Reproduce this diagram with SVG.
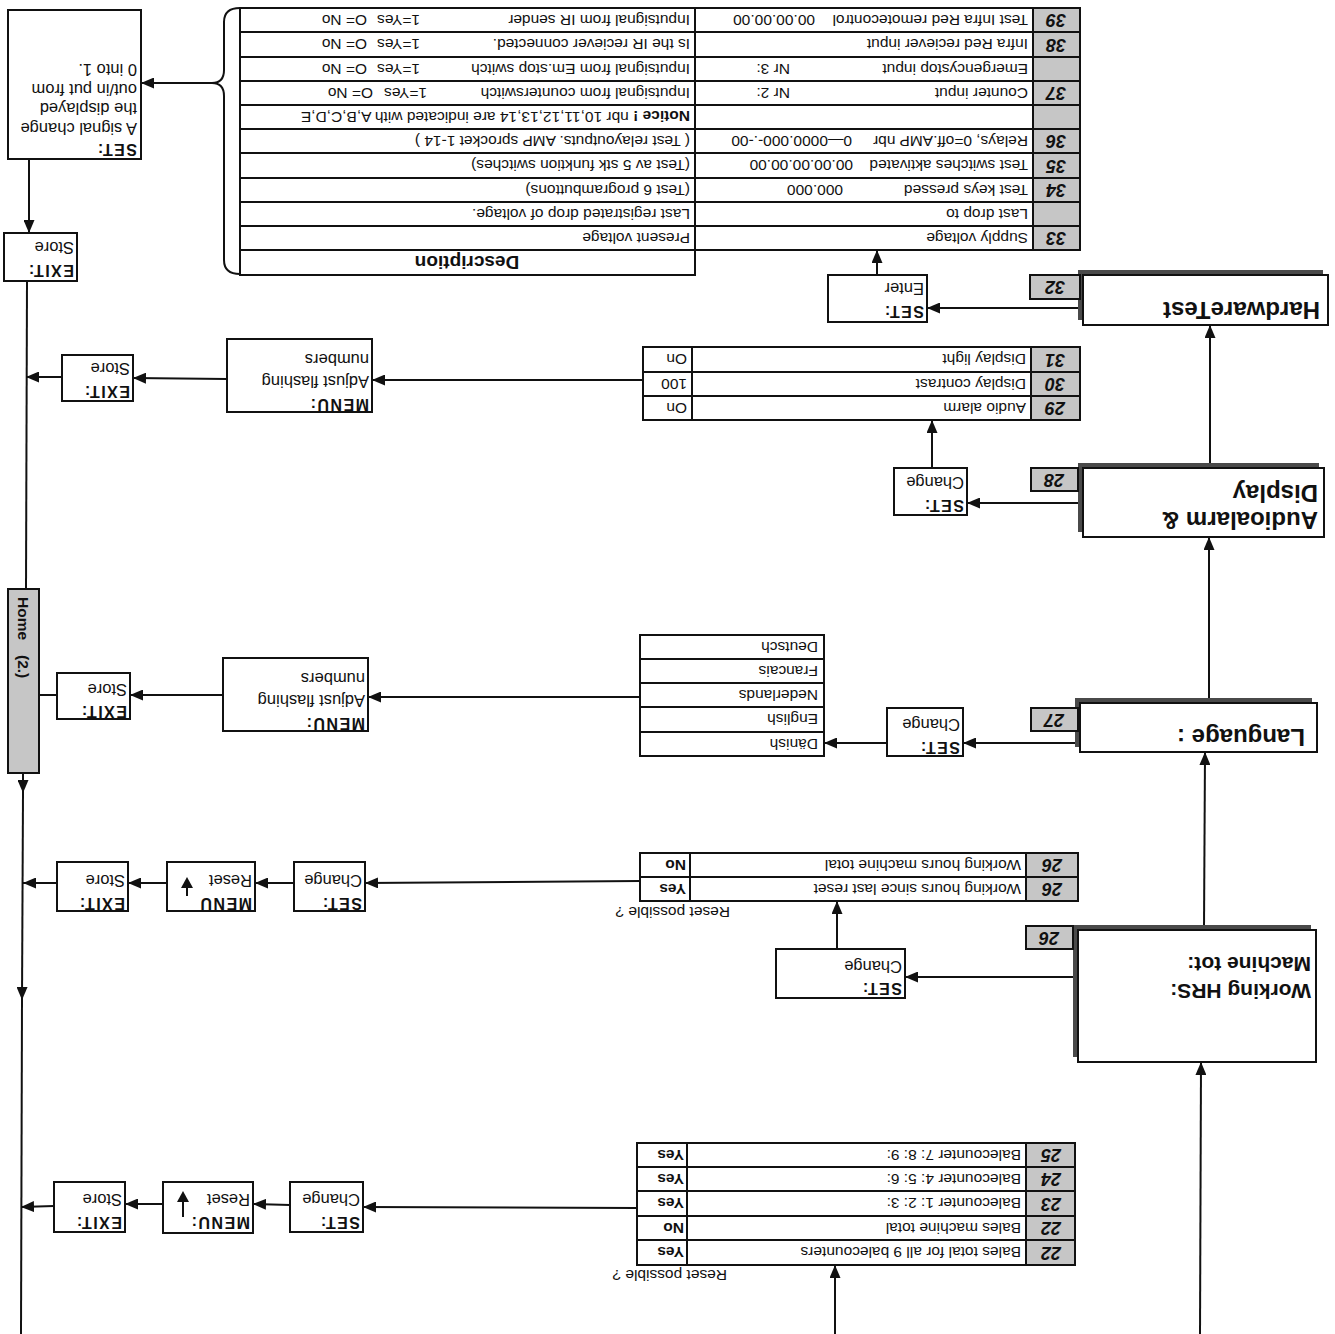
<svg xmlns="http://www.w3.org/2000/svg" width="1335" height="1334" viewBox="0 0 1335 1334">
<defs>
<style>
.ln{stroke:#111;stroke-width:2;fill:none}
.box{fill:#fff;stroke:#111;stroke-width:2}
.grey{fill:#c6c6c6;stroke:#111;stroke-width:2}
.shadow{fill:#4a4a4a}
text{font-family:"Liberation Sans",Arial,sans-serif;fill:#111;dominant-baseline:central}
.t{font-size:15.5px}
.tb{font-size:15.5px;font-weight:bold}
.b{font-size:16.5px}
.h{font-size:16px;font-weight:bold;letter-spacing:1.5px}
.n{font-size:18px;font-weight:bold;font-style:italic}
.big{font-size:24px;font-weight:bold}
.mid{font-size:21px;font-weight:bold}
.hdr{font-size:19px;font-weight:bold}
</style>
<marker id="ah" markerUnits="userSpaceOnUse" markerWidth="13" markerHeight="11" refX="13" refY="5.5" orient="auto"><path d="M0,0 L13,5.5 L0,11 z" fill="#111"/></marker>
</defs>
<rect width="1335" height="1334" fill="#fff"/>

<!-- connectors -->
<g id="connectors" class="ln">
<path d="M1200,1334 L1201,1062" marker-end="url(#ah)"/>
<path d="M1204,930 L1205,752" marker-end="url(#ah)"/>
<path d="M1209,703 L1209,537" marker-end="url(#ah)"/>
<path d="M1210,468 L1210,325" marker-end="url(#ah)"/>
<path d="M1083,308 L927,308" marker-end="url(#ah)"/>
<path d="M877,275 L877,250" marker-end="url(#ah)"/>
<path d="M212,83 L141,83" marker-end="url(#ah)"/>
<path d="M29,159 L29,233" marker-end="url(#ah)"/>
<path d="M27,281 L26,589"/>
<path d="M23,773 L23,793" marker-end="url(#ah)"/>
<path d="M23,793 L22,1000" marker-end="url(#ah)"/>
<path d="M22,1000 L21,1334"/>
<path d="M643,380 L372,380" marker-end="url(#ah)"/>
<path d="M227,379 L133,378" marker-end="url(#ah)"/>
<path d="M62,377 L26,377" marker-end="url(#ah)"/>
<path d="M1083,503 L967,503" marker-end="url(#ah)"/>
<path d="M932,468 L932,420" marker-end="url(#ah)"/>
<path d="M1080,743 L963,743" marker-end="url(#ah)"/>
<path d="M899,743 L824,743" marker-end="url(#ah)"/>
<path d="M640,697 L368,697" marker-end="url(#ah)"/>
<path d="M223,695 L130,695" marker-end="url(#ah)"/>
<path d="M57,695 L39,695"/>
<path d="M1078,977 L905,977" marker-end="url(#ah)"/>
<path d="M837,949 L837,901" marker-end="url(#ah)"/>
<path d="M640,881 L365,883" marker-end="url(#ah)"/>
<path d="M294,883 L255,883" marker-end="url(#ah)"/>
<path d="M167,883 L128,883" marker-end="url(#ah)"/>
<path d="M57,883 L23,883" marker-end="url(#ah)"/>
<path d="M835,1334 L835,1265" marker-end="url(#ah)"/>
<path d="M637,1208 L363,1207" marker-end="url(#ah)"/>
<path d="M290,1205 L253,1204" marker-end="url(#ah)"/>
<path d="M163,1204 L125,1204" marker-end="url(#ah)"/>
<path d="M54,1206 L21,1207" marker-end="url(#ah)"/>
<path d="M240,8 Q224,8 224,22 L224,70 Q224,83 212,83 Q224,83 224,96 L224,260 Q224,274 240,274"/>
</g>

<!-- Hardware test table -->
<g id="hw-table">
<rect class="box" x="240" y="8" width="455" height="267"/>
<rect class="box" x="695" y="8" width="338" height="242"/>
<rect class="grey" x="1033" y="8" width="47" height="242"/>
<path class="ln" d="M240,32H1080M240,57H1080M240,81H1080M240,105H1080M240,129H1080M240,153H1080M240,178H1080M240,202H1080M240,226H1080M240,250H1080"/>
<text class="n" x="1056" y="20" text-anchor="middle" transform="rotate(180 1056 20)">39</text>
<text class="n" x="1056" y="44.5" text-anchor="middle" transform="rotate(180 1056 44.5)">38</text>
<text class="n" x="1056" y="93" text-anchor="middle" transform="rotate(180 1056 93)">37</text>
<text class="n" x="1056" y="141" text-anchor="middle" transform="rotate(180 1056 141)">36</text>
<text class="n" x="1056" y="165.5" text-anchor="middle" transform="rotate(180 1056 165.5)">35</text>
<text class="n" x="1056" y="190" text-anchor="middle" transform="rotate(180 1056 190)">34</text>
<text class="n" x="1056" y="238" text-anchor="middle" transform="rotate(180 1056 238)">33</text>
<text class="t" x="1028" y="20" transform="rotate(180 1028 20)">Test Infra Red remotecontrol</text>
<text class="t" x="815" y="20" transform="rotate(180 815 20)">00.00.00.00</text>
<text class="t" x="1028" y="44.5" transform="rotate(180 1028 44.5)">Infra Red reciever input</text>
<text class="t" x="1028" y="69" transform="rotate(180 1028 69)">Emergencystop input</text>
<text class="t" x="790" y="69" transform="rotate(180 790 69)">Nr 3:</text>
<text class="t" x="1028" y="93" transform="rotate(180 1028 93)">Counter input</text>
<text class="t" x="790" y="93" transform="rotate(180 790 93)">Nr 2:</text>
<text class="t" x="1028" y="141" transform="rotate(180 1028 141)">Relays, 0=off.AMP nbr</text>
<text class="t" x="852" y="141" transform="rotate(180 852 141)">0—0000.000-.-00</text>
<text class="t" x="1028" y="165.5" transform="rotate(180 1028 165.5)">Test switches aktivated</text>
<text class="t" x="853" y="165.5" transform="rotate(180 853 165.5)">00.00.00.00.00</text>
<text class="t" x="1028" y="190" transform="rotate(180 1028 190)">Test keys pressed</text>
<text class="t" x="843" y="190" transform="rotate(180 843 190)">000.000</text>
<text class="t" x="1028" y="214" transform="rotate(180 1028 214)">Last drop to</text>
<text class="t" x="1028" y="238" transform="rotate(180 1028 238)">Supply voltage</text>
<text class="t" x="690" y="20" transform="rotate(180 690 20)">Inputsignal from IR sender</text>
<text class="t" x="690" y="44.5" transform="rotate(180 690 44.5)">Is the IR reciever connected.</text>
<text class="t" x="690" y="69" transform="rotate(180 690 69)">Inputsignal from Em.stop switch</text>
<text class="t" x="690" y="93" transform="rotate(180 690 93)">Inputsignal from counterswitch</text>
<text class="t" x="690" y="117" transform="rotate(180 690 117)"><tspan font-weight="bold">Notice !</tspan> nbr 10,11,12,13,14 are indicated with A,B,C,D,E</text>
<text class="t" x="690" y="141" transform="rotate(180 690 141)">( Test relayoutputs. AMP sprocket 1-14 )</text>
<text class="t" x="690" y="165.5" transform="rotate(180 690 165.5)">(Test av 5 stk funktion switches)</text>
<text class="t" x="690" y="190" transform="rotate(180 690 190)">(Test 6 programbuttons)</text>
<text class="t" x="690" y="214" transform="rotate(180 690 214)">Last registrated drop of voltage.</text>
<text class="t" x="690" y="238" transform="rotate(180 690 238)">Present voltage</text>
<text class="hdr" x="467" y="262.5" text-anchor="middle" transform="rotate(180 467 262.5)">Description</text>
<text class="t" x="420" y="20" transform="rotate(180 420 20)">1=Yes</text>
<text class="t" x="367" y="20" transform="rotate(180 367 20)">O= No</text>
<text class="t" x="420" y="44.5" transform="rotate(180 420 44.5)">1=Yes</text>
<text class="t" x="367" y="44.5" transform="rotate(180 367 44.5)">O= No</text>
<text class="t" x="420" y="69" transform="rotate(180 420 69)">1=Yes</text>
<text class="t" x="367" y="69" transform="rotate(180 367 69)">O= No</text>
<text class="t" x="427" y="93" transform="rotate(180 427 93)">1=Yes</text>
<text class="t" x="373" y="93" transform="rotate(180 373 93)">O= No</text>
</g>

<!-- HardwareTest -->
<g id="hardwaretest">
<rect class="shadow" x="1078" y="270" width="245" height="50"/>
<rect class="box" x="1083" y="275" width="245" height="50"/>
<text class="big" x="1320" y="310" transform="rotate(180 1320 310)">HardwareTest</text>
<rect class="grey" x="1030" y="275" width="50" height="24"/>
<text class="n" x="1055" y="287" text-anchor="middle" transform="rotate(180 1055 287)">32</text>
</g>
<g id="set-enter">
<rect class="box" x="828" y="275" width="99" height="47"/>
<text class="h" x="924" y="311" transform="rotate(180 924 311)">SET:</text>
<text class="b" x="924" y="289" transform="rotate(180 924 289)">Enter</text>
</g>

<g id="set-signal">
<rect class="box" x="8" y="10" width="133" height="149"/>
<text class="h" x="137" y="149" transform="rotate(180 137 149)">SET:</text>
<text class="b" x="137" y="129" transform="rotate(180 137 129)">A signal change</text>
<text class="b" x="137" y="109" transform="rotate(180 137 109)">the displayed</text>
<text class="b" x="137" y="90" transform="rotate(180 137 90)">out/in put from</text>
<text class="b" x="137" y="70" transform="rotate(180 137 70)">0 into 1.</text>
</g>
<g id="exit-hw">
<rect class="box" x="4" y="233" width="73" height="48"/>
<text class="h" x="74" y="270" transform="rotate(180 74 270)">EXIT:</text>
<text class="b" x="74" y="248" transform="rotate(180 74 248)">Store</text>
</g>

<!-- Audio / display -->
<g id="audio-table">
<rect class="box" x="643" y="347" width="49" height="73"/>
<rect class="box" x="692" y="347" width="339" height="73"/>
<rect class="grey" x="1031" y="347" width="49" height="73"/>
<path class="ln" d="M643,372H1080M643,396H1080"/>
<text class="n" x="1055" y="359.5" text-anchor="middle" transform="rotate(180 1055 359.5)">31</text>
<text class="n" x="1055" y="384" text-anchor="middle" transform="rotate(180 1055 384)">30</text>
<text class="n" x="1055" y="408" text-anchor="middle" transform="rotate(180 1055 408)">29</text>
<text class="t" x="1026" y="359.5" transform="rotate(180 1026 359.5)">Display light</text>
<text class="t" x="1026" y="384" transform="rotate(180 1026 384)">Display contrast</text>
<text class="t" x="1026" y="408" transform="rotate(180 1026 408)">Audio alarm</text>
<text class="t" x="687" y="359.5" transform="rotate(180 687 359.5)">On</text>
<text class="t" x="687" y="384" transform="rotate(180 687 384)">100</text>
<text class="t" x="687" y="408" transform="rotate(180 687 408)">On</text>
</g>
<g id="menu-audio">
<rect class="box" x="227" y="339" width="145" height="73"/>
<text class="h" x="369" y="404" transform="rotate(180 369 404)">MENU:</text>
<text class="b" x="369" y="382" transform="rotate(180 369 382)">Adjust flashing</text>
<text class="b" x="369" y="360" transform="rotate(180 369 360)">numbers</text>
</g>
<g id="exit-audio">
<rect class="box" x="62" y="355" width="71" height="46"/>
<text class="h" x="130" y="391" transform="rotate(180 130 391)">EXIT:</text>
<text class="b" x="130" y="369" transform="rotate(180 130 369)">Store</text>
</g>
<g id="audioalarm">
<rect class="shadow" x="1078" y="463" width="241" height="69"/>
<rect class="box" x="1083" y="468" width="241" height="69"/>
<text class="big" x="1318" y="520" transform="rotate(180 1318 520)">Audioalarm &amp;</text>
<text class="big" x="1318" y="493" transform="rotate(180 1318 493)">Display</text>
<rect class="grey" x="1031" y="468" width="47" height="23"/>
<text class="n" x="1054" y="479.5" text-anchor="middle" transform="rotate(180 1054 479.5)">28</text>
</g>
<g id="set-audio">
<rect class="box" x="894" y="468" width="73" height="47"/>
<text class="h" x="964" y="505" transform="rotate(180 964 505)">SET:</text>
<text class="b" x="964" y="483" transform="rotate(180 964 483)">Change</text>
</g>

<!-- Language -->
<g id="language">
<rect class="shadow" x="1075" y="698" width="237" height="49"/>
<rect class="box" x="1080" y="703" width="237" height="49"/>
<text class="big" x="1305" y="737" transform="rotate(180 1305 737)">Language :</text>
<rect class="grey" x="1031" y="708" width="47" height="23"/>
<text class="n" x="1054" y="719.5" text-anchor="middle" transform="rotate(180 1054 719.5)">27</text>
</g>
<g id="set-lang">
<rect class="box" x="887" y="708" width="76" height="48"/>
<text class="h" x="960" y="747" transform="rotate(180 960 747)">SET:</text>
<text class="b" x="960" y="725" transform="rotate(180 960 725)">Change</text>
</g>
<g id="lang-table">
<rect class="box" x="640" y="635" width="184" height="121"/>
<path class="ln" d="M640,659H824M640,683H824M640,707H824M640,732H824"/>
<text class="t" x="818" y="647" transform="rotate(180 818 647)">Deutsch</text>
<text class="t" x="818" y="671" transform="rotate(180 818 671)">Francais</text>
<text class="t" x="818" y="695" transform="rotate(180 818 695)">Nederlands</text>
<text class="t" x="818" y="719.5" transform="rotate(180 818 719.5)">English</text>
<text class="t" x="818" y="744" transform="rotate(180 818 744)">Dänish</text>
</g>
<g id="menu-lang">
<rect class="box" x="223" y="658" width="145" height="73"/>
<text class="h" x="365" y="723" transform="rotate(180 365 723)">MENU:</text>
<text class="b" x="365" y="701" transform="rotate(180 365 701)">Adjust flashing</text>
<text class="b" x="365" y="679" transform="rotate(180 365 679)">numbers</text>
</g>
<g id="exit-lang">
<rect class="box" x="57" y="673" width="73" height="46"/>
<text class="h" x="127" y="711" transform="rotate(180 127 711)">EXIT:</text>
<text class="b" x="127" y="690" transform="rotate(180 127 690)">Store</text>
</g>
<g id="home">
<rect class="grey" x="8" y="589" width="31" height="184"/>
<text class="tb" x="23" y="597" transform="rotate(90 23 597)">Home</text>
<text class="tb" x="23" y="655" transform="rotate(90 23 655)">(2.)</text>
</g>

<!-- Working hours -->
<g id="working-hrs">
<rect class="shadow" x="1073" y="925" width="238" height="132"/>
<rect class="box" x="1078" y="930" width="238" height="132"/>
<text class="mid" x="1311" y="991" transform="rotate(180 1311 991)">Working HRS:</text>
<text class="mid" x="1311" y="964" transform="rotate(180 1311 964)">Machine tot:</text>
<rect class="grey" x="1026" y="926" width="47" height="23"/>
<text class="n" x="1049" y="937.5" text-anchor="middle" transform="rotate(180 1049 937.5)">26</text>
</g>
<g id="set-wh">
<rect class="box" x="776" y="949" width="129" height="49"/>
<text class="h" x="902" y="988" transform="rotate(180 902 988)">SET:</text>
<text class="b" x="902" y="967" transform="rotate(180 902 967)">Change</text>
</g>
<g id="wh-table">
<rect class="box" x="640" y="853" width="50" height="48"/>
<rect class="box" x="690" y="853" width="336" height="48"/>
<rect class="grey" x="1026" y="853" width="52" height="48"/>
<path class="ln" d="M640,877H1078"/>
<text class="n" x="1052" y="865" text-anchor="middle" transform="rotate(180 1052 865)">26</text>
<text class="n" x="1052" y="889" text-anchor="middle" transform="rotate(180 1052 889)">26</text>
<text class="t" x="1021" y="865" transform="rotate(180 1021 865)">Working hours machine total</text>
<text class="t" x="1021" y="889" transform="rotate(180 1021 889)">Working hours since last reset</text>
<text class="tb" x="686" y="865" transform="rotate(180 686 865)">No</text>
<text class="tb" x="686" y="889" transform="rotate(180 686 889)">Yes</text>
<text class="t" x="730" y="912" transform="rotate(180 730 912)">Reset possible ?</text>
</g>
<g id="set-wh2">
<rect class="box" x="294" y="862" width="71" height="49"/>
<text class="h" x="362" y="903" transform="rotate(180 362 903)">SET:</text>
<text class="b" x="362" y="881" transform="rotate(180 362 881)">Change</text>
</g>
<g id="menu-wh">
<rect class="box" x="167" y="862" width="88" height="49"/>
<text class="h" x="252" y="903" transform="rotate(180 252 903)">MENU</text>
<text class="b" x="252" y="881" transform="rotate(180 252 881)">Reset</text>
<path class="ln" d="M187,896V886"/>
<path d="M181,888 L187,877 L193,888 z" fill="#111"/>
</g>
<g id="exit-wh">
<rect class="box" x="57" y="862" width="71" height="49"/>
<text class="h" x="125" y="903" transform="rotate(180 125 903)">EXIT:</text>
<text class="b" x="125" y="881" transform="rotate(180 125 881)">Store</text>
</g>

<!-- Bales -->
<g id="bales-table">
<rect class="box" x="637" y="1143" width="50" height="122"/>
<rect class="box" x="687" y="1143" width="339" height="122"/>
<rect class="grey" x="1026" y="1143" width="49" height="122"/>
<path class="ln" d="M637,1167H1075M637,1191H1075M637,1216H1075M637,1240H1075"/>
<text class="n" x="1051" y="1155" text-anchor="middle" transform="rotate(180 1051 1155)">25</text>
<text class="n" x="1051" y="1179" text-anchor="middle" transform="rotate(180 1051 1179)">24</text>
<text class="n" x="1051" y="1203.5" text-anchor="middle" transform="rotate(180 1051 1203.5)">23</text>
<text class="n" x="1051" y="1228" text-anchor="middle" transform="rotate(180 1051 1228)">22</text>
<text class="n" x="1051" y="1252.5" text-anchor="middle" transform="rotate(180 1051 1252.5)">22</text>
<text class="t" x="1021" y="1155" transform="rotate(180 1021 1155)">Balecounter 7: 8: 9:</text>
<text class="t" x="1021" y="1179" transform="rotate(180 1021 1179)">Balecounter 4: 5: 6:</text>
<text class="t" x="1021" y="1203.5" transform="rotate(180 1021 1203.5)">Balecounter 1: 2: 3:</text>
<text class="t" x="1021" y="1228" transform="rotate(180 1021 1228)">Bales machine total</text>
<text class="t" x="1021" y="1252.5" transform="rotate(180 1021 1252.5)">Bales total for all 9 balecounters</text>
<text class="tb" x="684" y="1155" transform="rotate(180 684 1155)">Yes</text>
<text class="tb" x="684" y="1179" transform="rotate(180 684 1179)">Yes</text>
<text class="tb" x="684" y="1203.5" transform="rotate(180 684 1203.5)">Yes</text>
<text class="tb" x="684" y="1228" transform="rotate(180 684 1228)">No</text>
<text class="tb" x="684" y="1252.5" transform="rotate(180 684 1252.5)">Yes</text>
<text class="t" x="727" y="1275" transform="rotate(180 727 1275)">Reset possible ?</text>
</g>
<g id="set-bales">
<rect class="box" x="290" y="1182" width="73" height="50"/>
<text class="h" x="360" y="1222" transform="rotate(180 360 1222)">SET:</text>
<text class="b" x="360" y="1200" transform="rotate(180 360 1200)">Change</text>
</g>
<g id="menu-bales">
<rect class="box" x="163" y="1182" width="90" height="51"/>
<text class="h" x="250" y="1222" transform="rotate(180 250 1222)">MENU:</text>
<text class="b" x="250" y="1200" transform="rotate(180 250 1200)">Reset</text>
<path class="ln" d="M183,1217V1200"/>
<path d="M177,1202 L183,1191 L189,1202 z" fill="#111"/>
</g>
<g id="exit-bales">
<rect class="box" x="54" y="1182" width="71" height="50"/>
<text class="h" x="122" y="1222" transform="rotate(180 122 1222)">EXIT:</text>
<text class="b" x="122" y="1200" transform="rotate(180 122 1200)">Store</text>
</g>
</svg>
